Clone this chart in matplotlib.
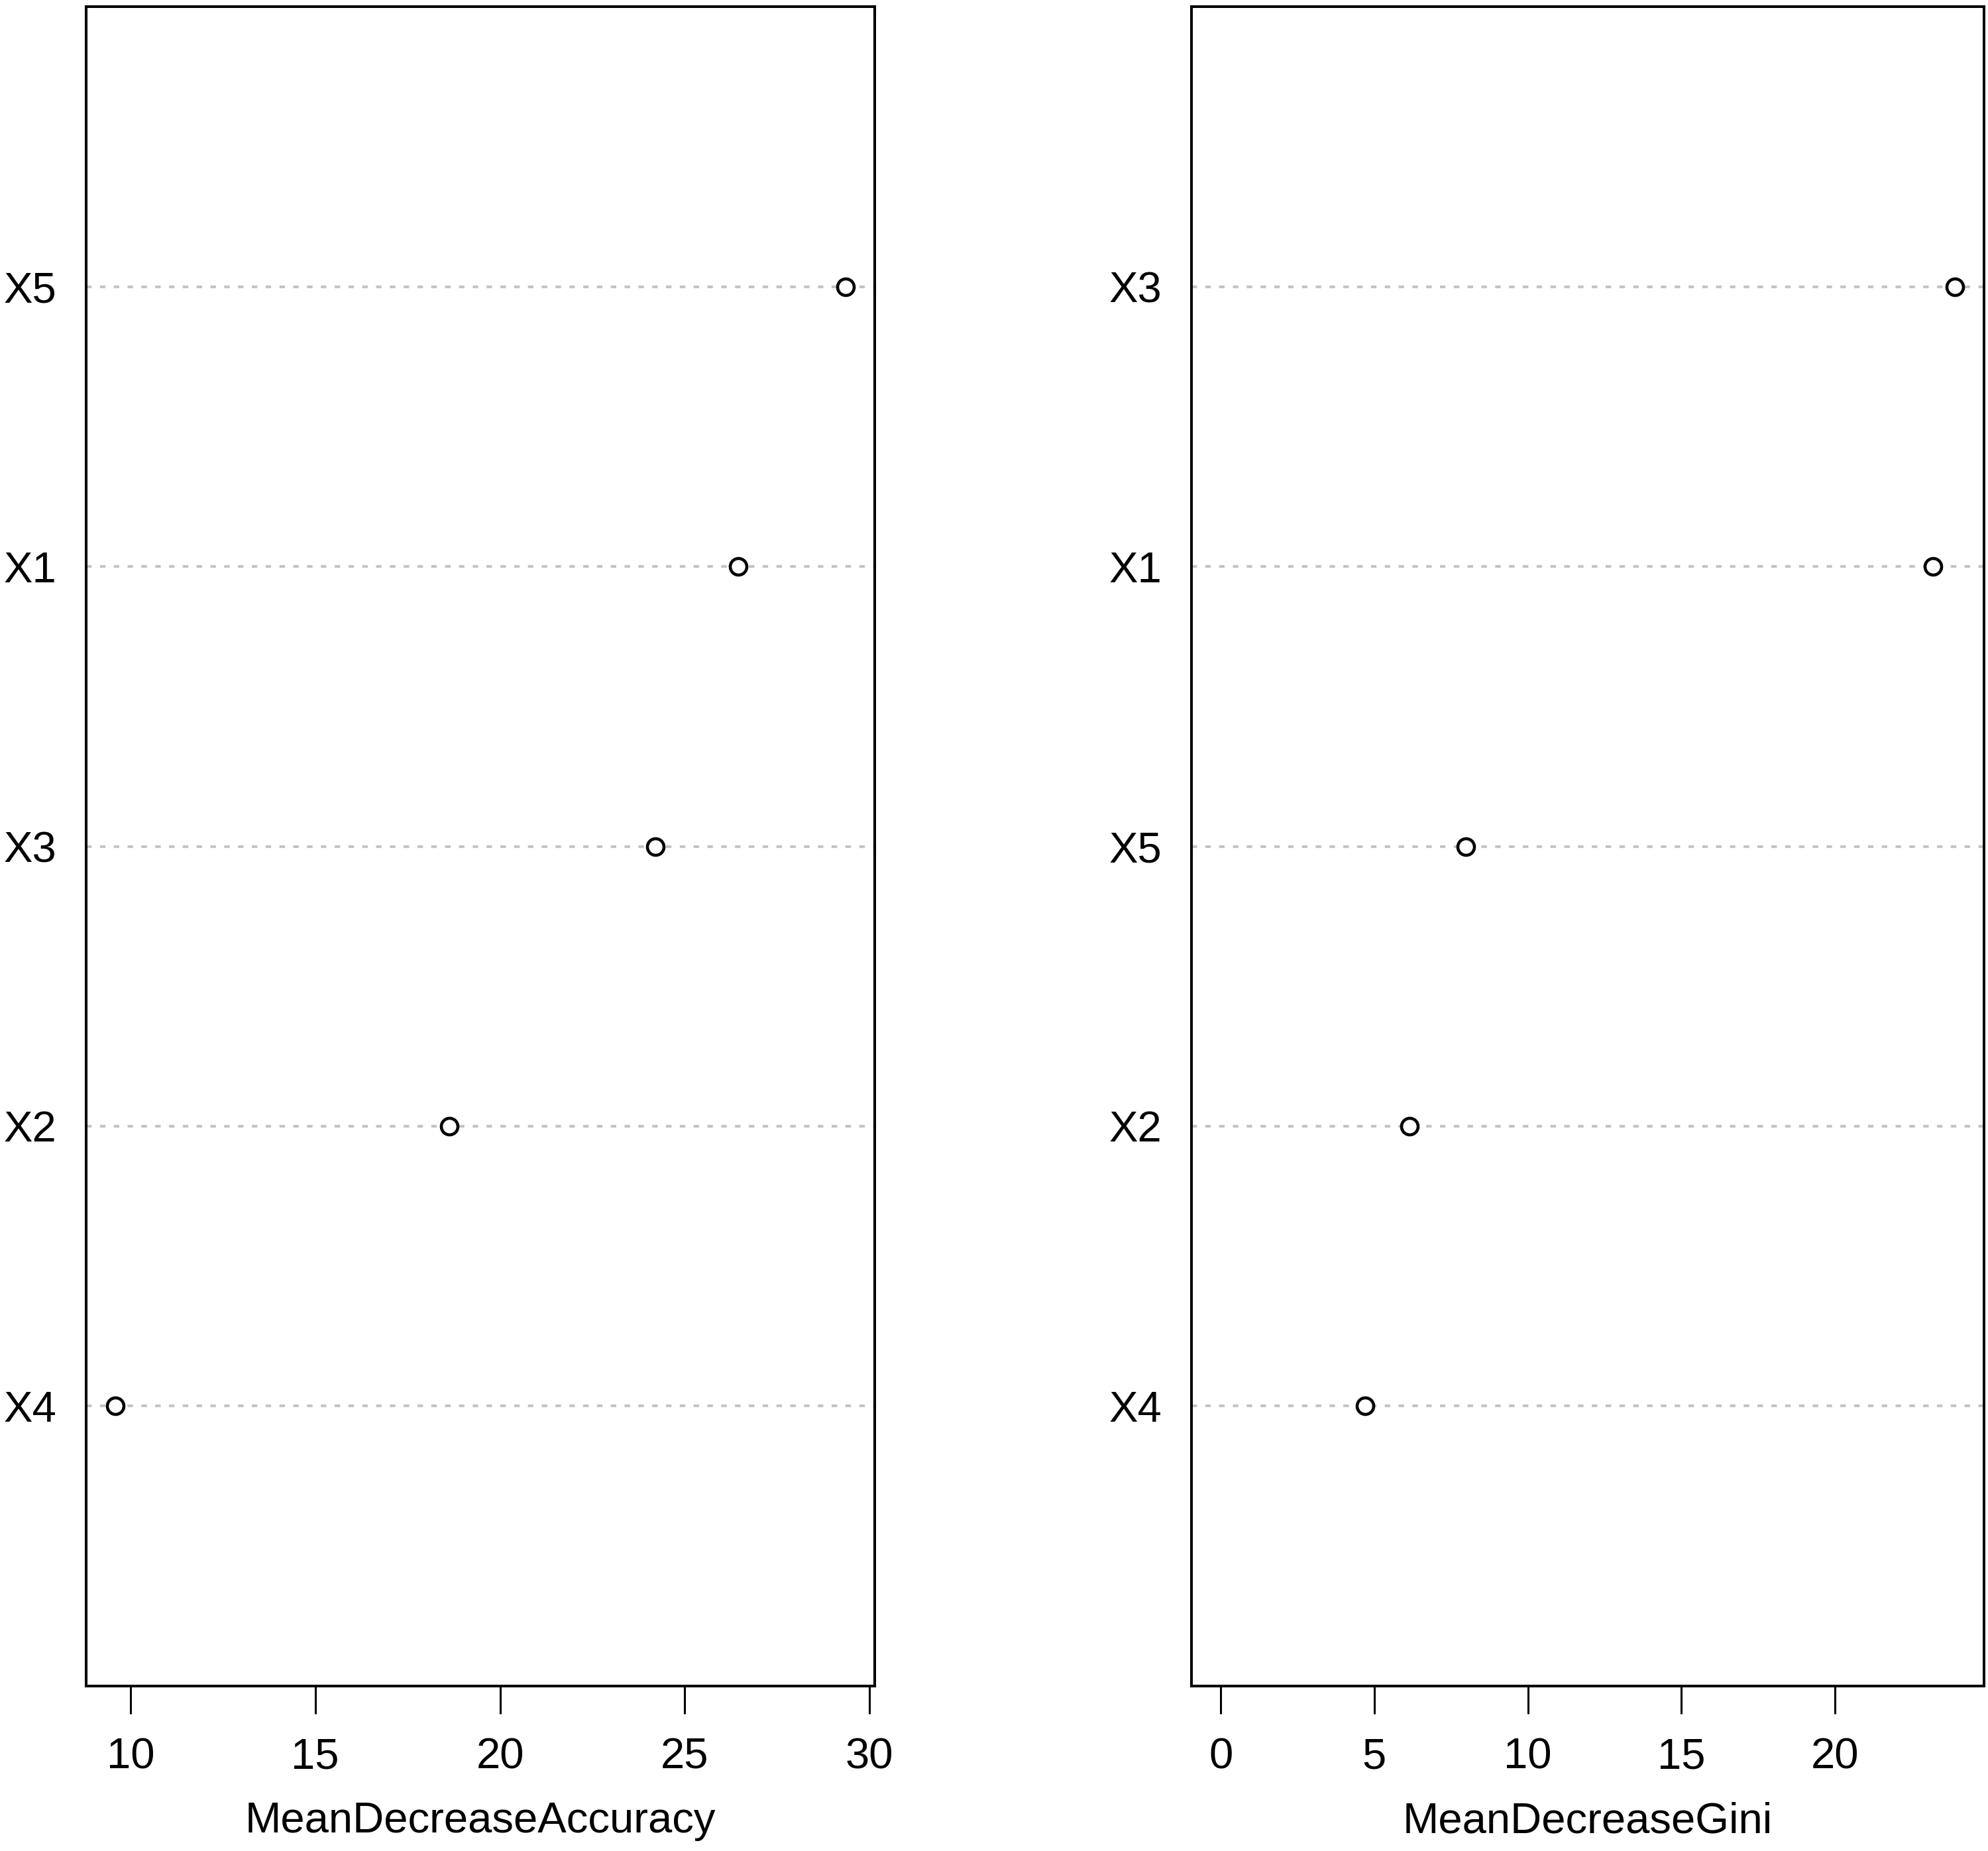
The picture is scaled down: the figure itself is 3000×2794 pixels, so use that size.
import matplotlib
import matplotlib.pyplot as plt
from matplotlib import font_manager

matplotlib.use("Agg")

# values (sorted as in the plot, top to bottom)
acc_labels = ["X5", "X1", "X3", "X2", "X4"]
acc_values = [29.35, 26.44, 24.21, 18.63, 9.59]

gini_labels = ["X3", "X1", "X5", "X2", "X4"]
gini_values = [23.9, 23.2, 7.97, 6.14, 4.69]

acc_ticks = [10, 15, 20, 25, 30]
gini_ticks = [0, 5, 10, 15, 20]

names = {f.name for f in font_manager.fontManager.ttflist}
family = "Liberation Sans Narrow" if "Liberation Sans Narrow" in names else "Liberation Sans"
plt.rcParams["font.family"] = [family, "DejaVu Sans"]

DPI = 100
FS = 47


def dotchart(ax, labels, values, ticks, xmin, title):
    n = len(values)
    ypos = list(range(n, 0, -1))
    lo, hi = xmin, max(values)
    ext = (hi - lo) * 0.04
    ax.set_xlim(lo - ext, hi + ext)
    ax.set_ylim(0, n + 1)
    for y in ypos:
        ax.axhline(y, color="#c4c4c4", linewidth=3.0, linestyle=(0, (2.0, 3.0)), zorder=1)
    ax.plot(values, ypos, linestyle="none", marker="o", markersize=18,
            markerfacecolor="white", markeredgecolor="black", markeredgewidth=3.3, zorder=3)
    ax.set_yticks(ypos)
    ax.set_yticklabels(labels)
    ax.set_xticks(ticks)
    ax.set_xticklabels([str(t) for t in ticks])
    ax.tick_params(axis="y", length=0, pad=32, labelsize=FS)
    ax.tick_params(axis="x", length=30, width=2.2, pad=26, labelsize=FS)
    for sp in ax.spines.values():
        sp.set_linewidth(2.9)
        sp.set_color("black")
    ax.set_xlabel(title, fontsize=FS)
    ax.xaxis.set_label_coords(0.5, -0.0805)
    ax.xaxis.label.set_va("center")


fig = plt.figure(figsize=(3000 / DPI, 2794 / DPI), dpi=DPI)
ax1 = fig.add_axes([0.04333, 0.08912, 0.39667, 0.9073])
ax2 = fig.add_axes([0.59933, 0.08912, 0.39867, 0.9073])

dotchart(ax1, acc_labels, acc_values, acc_ticks, min(acc_values), "MeanDecreaseAccuracy")
dotchart(ax2, gini_labels, gini_values, gini_ticks, 0, "MeanDecreaseGini")

fig.savefig("out.png", dpi=DPI)
plt.close(fig)
